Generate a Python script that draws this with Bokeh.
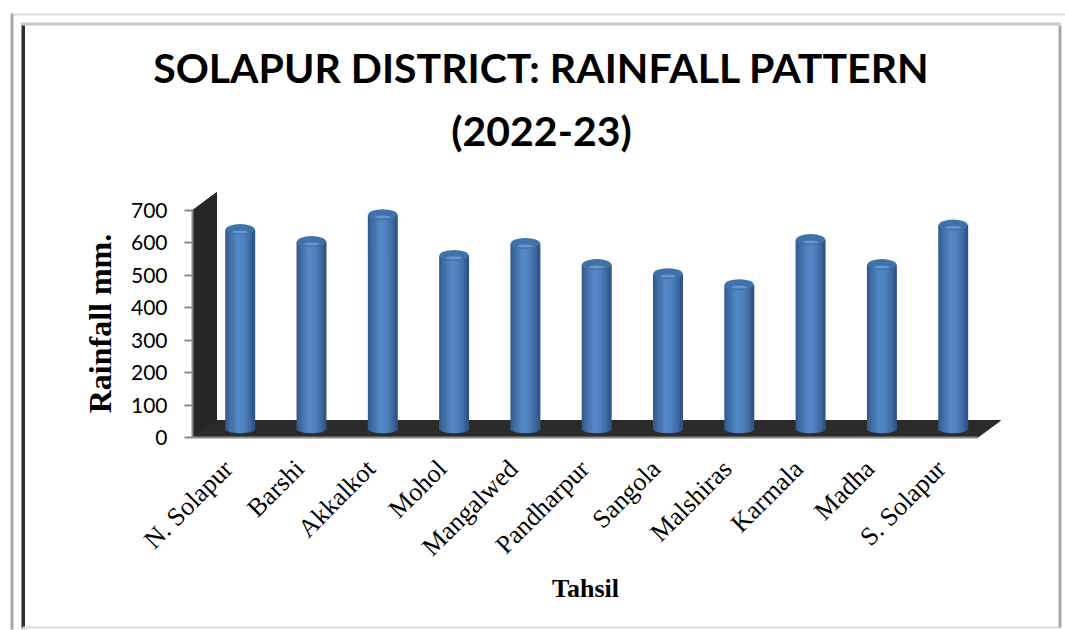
from math import pi, sqrt
from bokeh.plotting import figure
from bokeh.embed import file_html
from bokeh.resources import INLINE
from bokeh.models import Range1d, FixedTicker, Label

# ---- data ----
tahsils = ["N. Solapur", "Barshi", "Akkalkot", "Mohol", "Mangalwed", "Pandharpur",
           "Sangola", "Malshiras", "Karmala", "Madha", "S. Solapur"]
rainfall = [615, 578, 661, 535, 572, 507, 479, 445, 584, 507, 629]
y_ticks = [0, 100, 200, 300, 400, 500, 600, 700]

# ---- style / geometry ----
W, H = 1065, 630
UX = 71.3            # pixels per category
UY = 227.0 / 700     # pixels per mm
X0, Y0 = 227.7, 437  # canvas position of category 0 / rainfall 0


def X(px):
    return (px - X0) / UX


def Y(py):
    return (Y0 - py) / UY


DEPTH_X = 12 / UX    # bars stand half way into the floor depth
DEPTH_Y = 8.5 / UY
HALF = 14.5 / UX
N_STRIPS = 15
STOPS = [(0.0, (49, 88, 135)), (0.14, (62, 108, 162)), (0.42, (84, 136, 199)),
         (0.62, (80, 131, 193)), (0.86, (62, 106, 160)), (1.0, (44, 80, 124))]


def shade(t):
    for (a, ca), (b, cb) in zip(STOPS, STOPS[1:]):
        if t <= b:
            f = (t - a) / (b - a)
            return "#%02x%02x%02x" % tuple(round(u + (v - u) * f) for u, v in zip(ca, cb))
    return "#2c507c"


p = figure(width=W, height=H, output_backend="svg", toolbar_location=None,
           x_range=Range1d(X(0), X(W)), y_range=Range1d(Y(H), Y(0)),
           min_border=0, outline_line_color=None,
           background_fill_color="white", border_fill_color="white")
p.grid.visible = False

# picture frame
frame = [(10, 1065, 13, 15, "#dedede"),
         (20, 1060, 22, 25, "#c9c9c9"), (21, 24.5, 25, 628, "#2e2e2e"),
         (22, 1060, 626, 628, "#dadada"), (1058, 1061, 25, 627, "#a9a9a9")]
for l, r, t, b, c in frame:
    p.quad(left=[X(l)], right=[X(r)], top=[Y(t)], bottom=[Y(b)],
           fill_color=c, line_color=None, level="underlay")
p.segment(x0=[X(11.5)], x1=[X(11.5)], y0=[Y(13)], y1=[Y(629)],
          line_color="#a8a8a8", line_width=3, level="underlay")

# 3-D walls
p.patch([X(192), X(192), X(216), X(216)], [Y(437), Y(210), Y(192), Y(420)],
        color="#262626", level="underlay")
p.patch([X(192), X(216), X(1000), X(977)], [Y(437), Y(420), Y(420), Y(437)],
        color="#2b2b2b", level="underlay")

# cylinders: a stack of narrow vbars gives the horizontal shading
for k in range(N_STRIPS):
    mid = (k + 0.5) / N_STRIPS
    u = 2 * mid - 1
    xs = [i + DEPTH_X - HALF + mid * 2 * HALF for i in range(len(tahsils))]
    p.vbar(x=xs, width=2 * HALF / N_STRIPS * 1.5,
           bottom=DEPTH_Y - 4.2 / UY * sqrt(1 - u * u),
           top=[v + DEPTH_Y for v in rainfall],
           fill_color=shade(mid), line_color=None)

xc = [i + DEPTH_X for i in range(len(tahsils))]
yc = [v + DEPTH_Y for v in rainfall]
p.ellipse(xc, yc, width=29, height=11, width_units="screen", height_units="screen",
          fill_color="#4072aa", line_color=None)
p.ellipse(xc, [v - 2.4 / UY for v in yc], width=16, height=3, width_units="screen",
          height_units="screen", fill_color="#6b99d1", line_color=None, fill_alpha=0.9)

# axes, inside the full-canvas frame
ax = p.yaxis[0]
ax.fixed_location = X(192)
ax.ticker = FixedTicker(ticks=y_ticks)
ax.bounds = (0, 700)
ax.axis_line_color = "#8a8a8a"
ax.axis_line_width = 2
ax.major_tick_line_color = "#8a8a8a"
ax.major_tick_line_width = 2
ax.major_tick_in = 0
ax.major_tick_out = 8
ax.minor_tick_line_color = None
ax.major_label_standoff = 17
ax.major_label_text_font = "Lato"
ax.major_label_text_font_size = "21px"
ax.major_label_text_color = "black"

bx = p.xaxis[0]
bx.fixed_location = 0
bx.ticker = FixedTicker(ticks=list(range(len(tahsils))))
bx.major_label_overrides = {i: n for i, n in enumerate(tahsils)}
bx.bounds = (X(192), X(977))
bx.axis_line_color = "#8a8a8a"
bx.axis_line_width = 2
bx.major_tick_line_color = None
bx.minor_tick_line_color = None
bx.major_tick_out = 0
bx.major_label_orientation = pi / 4
bx.major_label_standoff = 27
bx.major_label_text_font = "Liberation Serif"
bx.major_label_text_font_size = "26px"
bx.major_label_text_color = "black"

# title and axis titles
for txt, y in [("SOLAPUR DISTRICT: RAINFALL PATTERN", 67), ("(2022-23)", 130)]:
    p.add_layout(Label(x=X(541), y=Y(y), text=txt, text_font="Lato", text_font_style="bold",
                       text_font_size="41px", text_align="center", text_baseline="middle",
                       text_color="black"))
p.add_layout(Label(x=X(99), y=Y(323), text="Rainfall mm.", angle=pi / 2,
                   text_font="Liberation Serif", text_font_style="bold", text_font_size="32px",
                   text_align="center", text_baseline="middle", text_color="black"))
p.add_layout(Label(x=X(585), y=Y(588), text="Tahsil",
                   text_font="Liberation Serif", text_font_style="bold", text_font_size="26px",
                   text_align="center", text_baseline="middle", text_color="black"))

open("out.html", "w").write(file_html(p, INLINE))
